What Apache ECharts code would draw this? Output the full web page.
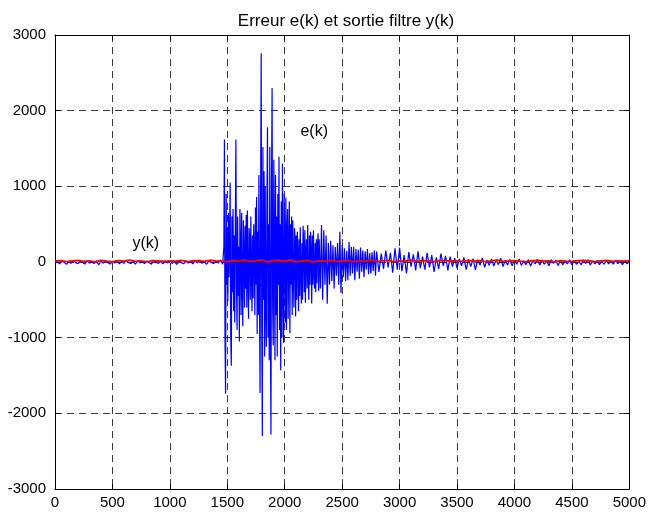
<!DOCTYPE html>
<html>
<head>
<meta charset="utf-8">
<script src="https://cdn.jsdelivr.net/npm/echarts@6/dist/echarts.min.js"></script>
<style>
html,body{margin:0;padding:0;background:#fff;}
#chart{width:649px;height:515px;}
</style>
</head>
<body>
<div id="chart"></div>
<script>
// Title and tick labels
const chartTitle = 'Erreur e(k) et sortie filtre y(k)';
const xTicks = [0, 500, 1000, 1500, 2000, 2500, 3000, 3500, 4000, 4500, 5000];
const yTicks = [-3000, -2000, -1000, 0, 1000, 2000, 3000];

// e(k): quiet part, samples 0..1460 every 20
const eQuietStartK = 0, eQuietStepK = 20;
const eQuiet = [
  -12, 8, -25, 15, -5, -30, 10, -18, 20, -8,
  -22, 12, -6, -28, 18, -15, 5, -20, 14, -35,
  10, -16, 22, -10, -26, 6, -14, 18, -24, 8,
  -18, 25, -8, -20, 12, -30, 16, -12, 4, -22,
  15, -10, -28, 20, -6, -18, 10, -25, 14, -12,
  22, -20, 6, -32, 12, -8, -24, 18, -14, 10,
  -26, 16, -10, 24, -18, 8, -30, 14, -6, -20,
  12, -15, 25, -30
];
// e(k): burst, samples 1470..2295 every 5
const eBurstStartK = 1470, eBurstStepK = 5;
const eBurst = [
  200, 1620, -1000, -1740, 900, -300, 450, -520, 650, -200, 300, 1050, -980, -1370, 600, -400, 700, -650, 350, -800,
  500, 1620, -300, -900, 600, -450, 200, -1050, 700, 250, -700, 650, -300, -850, 550, 100, -600, 480, -350, 620,
  -600, 680, -200, -750, 450, 300, -500, 600, -100, -650, 350, -480, 500, 150, -700, 720, -300, 860, -950, 400,
  -700, 1150, -400, -1730, 900, 2760, -800, -2300, 1520, -500, 1200, -1250, 1000, -600, -1120, 800, 1780, -1000, 500, -1300,
  1520, -800, -2280, 1000, 2300, -600, -1100, 1350, 400, -1300, 1150, -700, 600, -1250, 900, -300, 1390, -900, 500, -1430,
  800, -1000, 1300, -400, -1070, 900, 300, -800, 850, -900, 400, 700, -750, 200, 800, -940, 500, -300, 600, -700,
  550, -200, -600, 450, 300, -720, 350, -500, 400, 100, -650, 300, -450, 460, -150, -550, 250, -500, 480, 200,
  -400, 420, -540, 100, 300, -350, 490, -200, -500, 350, -300, 400, 150, -550, 350, -300, 420, -100, -350, 250,
  -400, 300, -280, 200, 380, -380
];
// e(k): decay, samples 2300..2800 every 10
const eDecayStartK = 2300, eDecayStepK = 10;
const eDecay = [
  300, -350, 490, -500, 420, -300, 350, -550, 250, -300,
  280, -250, 220, -350, 200, -180, 250, -300, 400, -410,
  220, -200, 180, -250, 150, -240, 265, -180, 200, -150,
  200, -240, 170, -130, 160, -220, 190, -130, 150, -200,
  140, -100, 170, -160, 120, -150, 130, -120, 150, -180,
  140
];
// e(k): tail, samples 2820..5000 every 20
const eTailStartK = 2820, eTailStepK = 20;
const eTail = [
  -130, 110, -90, 150, -70, 120, -140, 180, -100, 190,
  -120, 90, -150, 130, -60, 100, -110, 140, -80, 70,
  -100, 120, -70, 90, -130, 60, -90, 110, -50, 80,
  -110, 70, -60, 50, -80, 40, -50, 60, -100, 35,
  -60, 45, -105, 30, -40, 55, -70, 25, -45, 40,
  -55, 30, -35, 50, -60, 20, -40, 35, -50, 25,
  -30, 40, -45, 15, -35, 30, -55, 20, -25, 35,
  -40, 25, -30, 15, -50, 30, -20, 25, -45, 20,
  -35, 15, -25, 30, -40, 20, -30, 10, -35, 25,
  -20, 30, -40, 15, -25, 20, -35, 10, -30, 20,
  -25, 15, -30, 20, -20, 10, -35, 15, -25, 10
];
// y(k): samples 0..5000 every 50
const yStartK = 0, yStepK = 50;
const yOut = [
  10, 18, 5, 14, 22, 8, 15, 3, 20, 12,
  6, 17, 11, 24, 9, 14, 2, 19, 13, 7,
  16, 10, 21, 5, 13, 18, 8, 23, 11, 15,
  4, 20, 12, 26, 7, 16, 30, 2, 18, 24,
  10, 28, 6, 15, 22, 3, 17, 12, 25, 8,
  14, 20, 5, 18, 11, 24, 9, 15, 21, 6,
  16, 12, 23, 8, 19, 13, 4, 17, 22, 10,
  14, 7, 20, 12, 18, 5, 15, 24, 9, 13,
  19, 11, 6, 16, 22, 10, 14, 3, 18, 12,
  8, 17, 21, 13, 5, 15, 20, 9, 16, 11,
  14
];
// Text annotations (data coordinates)
const annotations = [
  {text: 'e(k)', k: 2257, v: 1730},
  {text: 'y(k)', k: 790, v: 240}
];

function toPairs(arr, start, step) {
  return arr.map((v, i) => [start + i * step, v]);
}
const ePairs = [].concat(
  toPairs(eQuiet, eQuietStartK, eQuietStepK),
  toPairs(eBurst, eBurstStartK, eBurstStepK),
  toPairs(eDecay, eDecayStartK, eDecayStepK),
  toPairs(eTail, eTailStartK, eTailStepK)
);
const yPairs = toPairs(yOut, yStartK, yStepK);

const FONT = 'Liberation Sans, Arial, Helvetica, sans-serif';
const dash = {show: true, lineStyle: {type: [7, 5], color: '#3a3a3a', width: 1}};

function mkX(pos, labels) {
  return {
    type: 'value', position: pos, min: xTicks[0], max: xTicks[xTicks.length - 1],
    interval: xTicks[1] - xTicks[0],
    axisLine: {show: true, onZero: false, lineStyle: {color: '#000', width: 1}},
    axisTick: {show: true, inside: true, length: 5, lineStyle: {color: '#000'}},
    axisLabel: {show: labels, color: '#000', fontSize: 15, fontFamily: FONT, margin: 6,
                formatter: v => String(v)},
    splitLine: labels ? dash : {show: false}
  };
}
function mkY(pos, labels) {
  return {
    type: 'value', position: pos, min: yTicks[0], max: yTicks[yTicks.length - 1],
    interval: yTicks[1] - yTicks[0],
    axisLine: {show: true, onZero: false, lineStyle: {color: '#000', width: 1}},
    axisTick: {show: true, inside: true, length: 5, lineStyle: {color: '#000'}},
    axisLabel: {show: labels, color: '#000', fontSize: 15, fontFamily: FONT, margin: 9,
                formatter: v => String(v)},
    splitLine: labels ? dash : {show: false}
  };
}

const chart = echarts.init(document.getElementById('chart'), null, {renderer: 'canvas'});
chart.setOption({
  animation: false,
  backgroundColor: '#fff',
  title: {
    text: chartTitle, left: 341, top: 8, textAlign: 'center',
    textStyle: {fontSize: 17, fontWeight: 'normal', color: '#000', fontFamily: FONT}
  },
  grid: {left: 55, right: 18, top: 35, bottom: 26, containLabel: false},
  xAxis: [mkX('bottom', true), mkX('top', false)],
  yAxis: [mkY('left', true), mkY('right', false)],
  series: [
    {
      name: 'e(k)', type: 'line', data: ePairs, showSymbol: false, symbol: 'none',
      sampling: false, lineStyle: {color: '#0000ff', width: 1.2}, z: 2
    },
    {
      name: 'y(k)', type: 'line', data: yPairs, showSymbol: false, symbol: 'none',
      lineStyle: {color: '#ff0000', width: 1.8}, z: 3
    }
  ]
});
// place annotation texts at their data coordinates
chart.setOption({
  graphic: annotations.map(a => {
    const p = chart.convertToPixel({gridIndex: 0}, [a.k, a.v]);
    return {
      type: 'text', x: p[0], y: p[1], z: 10,
      style: {text: a.text, fill: '#000', font: '16px ' + FONT, align: 'center', verticalAlign: 'middle'}
    };
  })
});
</script>
</body>
</html>
